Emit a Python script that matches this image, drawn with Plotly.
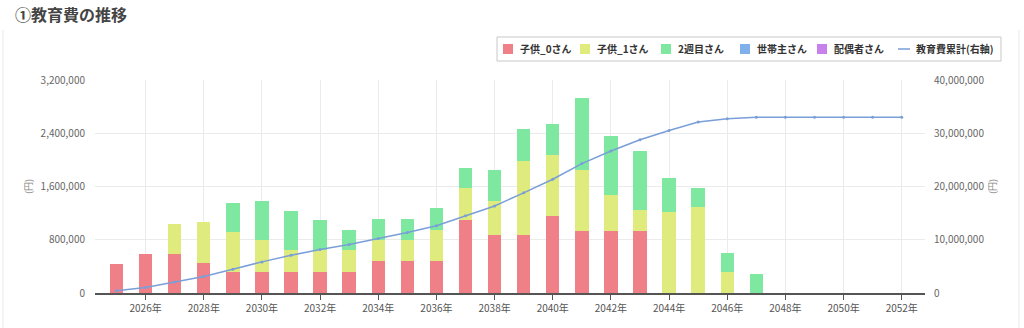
import plotly.graph_objects as go

years = list(range(2025, 2053))
bar_years = list(range(2025, 2048))

child0 = [431000, 582000, 585000, 451000, 311000, 311000, 311000, 311000, 311000, 477000, 477000, 477000,
          1093000, 872000, 872000, 1158000, 932000, 932000, 932000, 0, 0, 0, 0]
child1 = [0, 0, 452000, 612000, 602000, 481000, 342000, 342000, 342000, 315000, 326000, 476000,
          492000, 511000, 1113000, 917000, 913000, 542000, 316000, 1218000, 1293000, 320000, 0]
second = [0, 0, 0, 0, 440000, 587000, 575000, 440000, 290000, 327000, 316000, 331000,
          290000, 462000, 477000, 471000, 1092000, 887000, 887000, 516000, 290000, 277000, 281000]
head = [0] * 23
spouse = [0] * 23

cumulative = [431000, 1013000, 2050000, 3113000, 4466000, 5845000, 7073000, 8166000, 9109000,
              10228000, 11347000, 12631000, 14506000, 16351000, 18813000, 21359000, 24296000,
              26657000, 28792000, 30526000, 32109000, 32706000, 32987000, 32987000, 32987000,
              32987000, 32987000, 32987000]

tick_years = list(range(2026, 2053, 2))
tick_labels = [f"{y}年" for y in tick_years]
left_ticks = [0, 800000, 1600000, 2400000, 3200000]
right_ticks = [0, 10000000, 20000000, 30000000, 40000000]

series_names = ["子供_0さん", "子供_1さん", "2週目さん", "世帯主さん", "配偶者さん"]
line_name = "教育費累計(右軸)"
title_text = "①教育費の推移"

FONT = "Noto Sans CJK JP"
bar_colors = ["#f08088", "#dfeb7c", "#7ee8a0", "#80b0ea", "#c880ea"]
line_color = "#7a9ed8"

W, H = 1024, 328
ML, MR, MT, MB = 95, 99, 80, 35
PW, PH = W - ML - MR, H - MT - MB


def px(x):
    return (x - ML) / PW


def py(y):
    return (H - MB - y) / PH


fig = go.Figure()
for name, vals, col in zip(series_names, [child0, child1, second, head, spouse], bar_colors):
    fig.add_trace(go.Bar(x=bar_years, y=vals, name=name, marker=dict(color=col, line=dict(width=0)),
                         width=0.46, showlegend=False))

fig.add_trace(go.Scatter(x=years, y=cumulative, name=line_name, yaxis="y2", mode="lines+markers",
                         line=dict(color=line_color, width=1.5), marker=dict(size=3, color=line_color),
                         showlegend=False))

fig.update_layout(
    barmode="stack",
    width=W, height=H,
    margin=dict(l=ML, r=MR, t=MT, b=MB, autoexpand=False),
    paper_bgcolor="white", plot_bgcolor="white",
    font=dict(family=FONT, size=10, color="#666"),
    xaxis=dict(range=[2024.26, 2052.8], tickvals=tick_years, ticktext=tick_labels,
               showgrid=True, gridcolor="#ebebeb", gridwidth=1,
               showline=True, linecolor="#555", linewidth=1.5,
               ticks="outside", ticklen=5, tickcolor="#555", tickfont=dict(size=10, color="#555"),
               zeroline=False),
    yaxis=dict(range=[0, 3200000], tickvals=left_ticks, tickformat=",d", showgrid=True,
               gridcolor="#ebebeb", zeroline=False, showline=False, ticklabelstandoff=9,
               title=dict(text="(円)", font=dict(size=9, color="#888"), standoff=6),
               tickfont=dict(size=10, color="#666")),
    yaxis2=dict(range=[0, 40000000], tickvals=right_ticks, tickformat=",d", overlaying="y", side="right",
                showgrid=False, zeroline=False, showline=False, ticklabelstandoff=8,
                title=dict(text="(円)", font=dict(size=9, color="#888"), standoff=6),
                tickfont=dict(size=10, color="#666")),
    showlegend=False,
)

# title
fig.add_annotation(text=f"<b>{title_text}</b>", xref="paper", yref="paper", x=px(13), y=py(14),
                   xanchor="left", yanchor="middle", showarrow=False,
                   font=dict(size=16, color="#444", family=FONT))

# card borders
for xb in (3, 1019):
    fig.add_shape(type="line", xref="paper", yref="paper", x0=px(xb), x1=px(xb), y0=py(30), y1=py(330),
                  line=dict(color="#e8e8e8", width=1))

# manual legend
fig.add_shape(type="rect", xref="paper", yref="paper", x0=px(497), x1=px(1001), y0=py(37), y1=py(61),
              line=dict(color="#c8c8c8", width=1), fillcolor="white")
cy = 49
swatch_x = [503, 580, 661, 740, 817]
for sx, name, col in zip(swatch_x, series_names, bar_colors):
    fig.add_shape(type="rect", xref="paper", yref="paper", x0=px(sx), x1=px(sx + 10),
                  y0=py(cy + 5), y1=py(cy - 5), line=dict(width=0), fillcolor=col)
    fig.add_annotation(text=f"<b>{name}</b>", xref="paper", yref="paper", x=px(sx + 15), y=py(cy),
                       xanchor="left", yanchor="middle", showarrow=False,
                       font=dict(size=10, color="#333", family=FONT))
fig.add_shape(type="line", xref="paper", yref="paper", x0=px(898), x1=px(910), y0=py(cy), y1=py(cy),
              line=dict(color=line_color, width=1.5))
fig.add_annotation(text=f"<b>{line_name}</b>", xref="paper", yref="paper", x=px(914), y=py(cy),
                   xanchor="left", yanchor="middle", showarrow=False,
                   font=dict(size=10, color="#333", family=FONT))

fig.write_html("out.html")
